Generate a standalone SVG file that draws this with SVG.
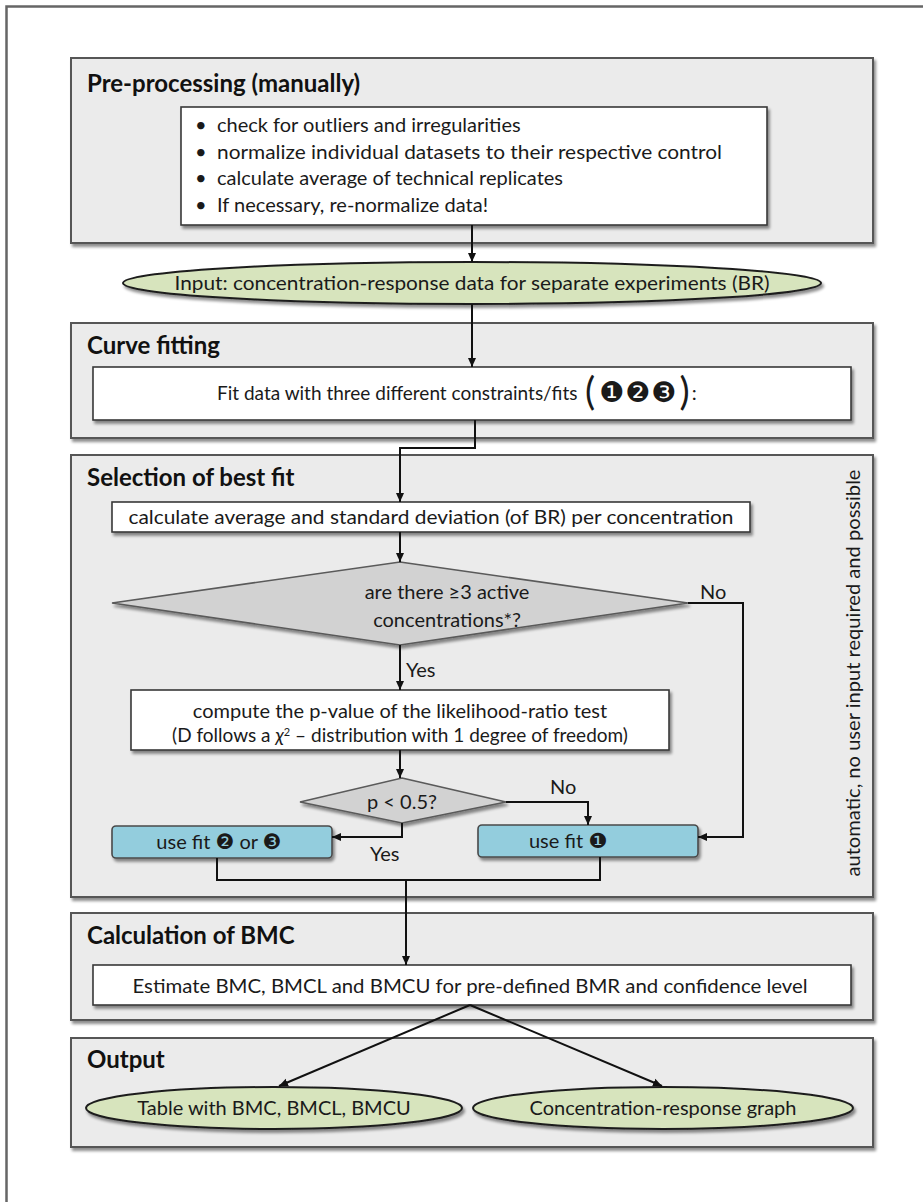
<svg xmlns="http://www.w3.org/2000/svg" width="923" height="1202" viewBox="0 0 923 1202">
<defs>
<style>
.sec{fill:#ebebeb;stroke:#575757;stroke-width:2;filter:url(#sh)}
.box{fill:#ffffff;stroke:#3a3a3a;stroke-width:1.6;filter:url(#sh)}
.ell{fill:#d7e4bd;stroke:#1e1e1e;stroke-width:2;filter:url(#sh)}
.dia{fill:#d2d2d2;stroke:#5a5a5a;stroke-width:1.6;filter:url(#sh)}
.blue{fill:#93cddd;stroke:#4a4a4a;stroke-width:1.6;filter:url(#sh)}
.t{font-family:Lato,"Liberation Sans",sans-serif;font-size:20px;fill:#1a1a1a}
.c{text-anchor:middle}
.h{font-family:Lato,"Liberation Sans",sans-serif;font-size:24px;font-weight:bold;fill:#111}
.d{font-family:"DejaVu Sans",sans-serif}
.ln{fill:none;stroke:#111;stroke-width:2}
</style>
<filter id="sh" x="-5%" y="-20%" width="110%" height="150%">
<feGaussianBlur in="SourceAlpha" stdDeviation="1.5"/>
<feOffset dx="1.5" dy="2.5" result="o"/>
<feComponentTransfer><feFuncA type="linear" slope="0.45"/></feComponentTransfer>
<feMerge><feMergeNode/><feMergeNode in="SourceGraphic"/></feMerge>
</filter>
<marker id="ar" markerWidth="10" markerHeight="10" refX="9" refY="5" orient="auto" markerUnits="userSpaceOnUse">
<path d="M0,1 L9,5 L0,9 Z" fill="#111"/>
</marker>
</defs>
<rect x="0" y="0" width="923" height="1202" fill="#fff"/>
<rect x="6.5" y="6.5" width="940" height="1220" fill="none" stroke="#666" stroke-width="2.5"/>

<g id="sec-preprocessing">
<rect class="sec" x="71" y="58" width="802" height="185"/>
<text class="h" x="87" y="92">Pre-processing (manually)</text>
</g>
<g id="node-bullets">
<rect class="box" x="181" y="107" width="586" height="118"/>
<text class="t" x="195" y="132">•</text><text class="t" x="217" y="132">check for outliers and irregularities</text>
<text class="t" x="195" y="159">•</text><text class="t" x="217" y="159" textLength="505" lengthAdjust="spacingAndGlyphs">normalize individual datasets to their respective control</text>
<text class="t" x="195" y="185">•</text><text class="t" x="217" y="185">calculate average of technical replicates</text>
<text class="t" x="195" y="212">•</text><text class="t" x="217" y="212">If necessary, re-normalize data!</text>
</g>
<g id="node-input">
<ellipse class="ell" cx="472" cy="283" rx="349" ry="21"/>
<text class="t c" x="472" y="290" textLength="595" lengthAdjust="spacingAndGlyphs">Input: concentration-response data for separate experiments (BR)</text>
</g>
<g id="sec-curve">
<rect class="sec" x="71" y="323" width="802" height="115"/>
<text class="h" x="87" y="354">Curve fitting</text>
</g>
<g id="node-fit">
<rect class="box" x="93" y="367" width="758" height="53"/>
<text class="t" x="217" y="400" style="font-size:19px">Fit data with three different constraints/fits</text>
<text class="t" x="585" y="405"><tspan style="font-size:38px">(</tspan><tspan class="d" dx="4" dy="-3" style="font-size:28px" letter-spacing="1">❶❷❸</tspan><tspan dx="2" dy="3" style="font-size:38px">)</tspan><tspan dx="2" dy="-5">:</tspan></text>
</g>
<g id="sec-selection">
<rect class="sec" x="71" y="455" width="802" height="442"/>
<text class="h" x="87" y="486">Selection of best fit</text>
<text class="t c" transform="translate(860,673) rotate(-90)" x="0" y="0" textLength="407" lengthAdjust="spacingAndGlyphs">automatic, no user input required and possible</text>
</g>
<g id="node-avg">
<rect class="box" x="112" y="502" width="638" height="30"/>
<text class="t c" x="431" y="524" textLength="605" lengthAdjust="spacingAndGlyphs">calculate average and standard deviation (of BR) per concentration</text>
</g>
<g id="node-active">
<polygon class="dia" points="400,562 688,603 400,645 112,603"/>
<text class="t c" x="447" y="599">are there ≥3 active</text>
<text class="t c" x="447" y="627">concentrations*?</text>
</g>
<g id="node-lrt">
<rect class="box" x="131" y="690" width="538" height="60"/>
<text class="t c" x="400" y="718">compute the p-value of the likelihood-ratio test</text>
<text class="t c" x="400" y="742" style="font-size:19px">(D follows a <tspan font-style="italic">χ</tspan><tspan style="font-size:11px" dy="-6">2</tspan><tspan dy="6"> – distribution with 1 degree of freedom)</tspan></text>
</g>
<g id="node-p">
<polygon class="dia" points="402,778 506,802 402,823 300,802"/>
<text class="t c" x="402" y="809">p &lt; 0.5?</text>
</g>
<g id="node-fit23">
<rect class="blue" x="112" y="826" width="220" height="32" rx="4"/>
<text class="t c" x="219" y="849">use fit <tspan class="d" style="font-size:21px">❷</tspan> or <tspan class="d" style="font-size:21px">❸</tspan></text>
</g>
<g id="node-fit1">
<rect class="blue" x="478" y="825" width="220" height="32" rx="4"/>
<text class="t c" x="568" y="848">use fit <tspan class="d" style="font-size:21px">❶</tspan></text>
</g>
<g id="sec-bmc">
<rect class="sec" x="71" y="913" width="802" height="107"/>
<text class="h" x="87" y="944">Calculation of BMC</text>
</g>
<g id="node-estimate">
<rect class="box" x="93" y="965" width="758" height="40"/>
<text class="t c" x="470" y="993" textLength="675" lengthAdjust="spacingAndGlyphs">Estimate BMC, BMCL and BMCU for pre-defined BMR and confidence level</text>
</g>
<g id="sec-output">
<rect class="sec" x="71" y="1038" width="802" height="109"/>
<text class="h" x="87" y="1068">Output</text>
</g>
<g id="node-table">
<ellipse class="ell" cx="274" cy="1108" rx="188" ry="21"/>
<text class="t c" x="274" y="1115">Table with BMC, BMCL, BMCU</text>
</g>
<g id="node-graph">
<ellipse class="ell" cx="663" cy="1108" rx="190" ry="21"/>
<text class="t c" x="663" y="1115">Concentration-response graph</text>
</g>

<g id="connectors">
<path class="ln" d="M472,225 V262" marker-end="url(#ar)"/>
<path class="ln" d="M472,304 V367" marker-end="url(#ar)"/>
<path class="ln" d="M475,420 V448 H400 V502" marker-end="url(#ar)"/>
<path class="ln" d="M400,532 V562" marker-end="url(#ar)"/>
<path class="ln" d="M400,645 V690" marker-end="url(#ar)"/>
<path class="ln" d="M400,750 V778" marker-end="url(#ar)"/>
<path class="ln" d="M688,603 H743 V837 H698" marker-end="url(#ar)"/>
<path class="ln" d="M506,802 H588 V825" marker-end="url(#ar)"/>
<path class="ln" d="M402,823 V837 H332" marker-end="url(#ar)"/>
<path class="ln" d="M217,858 V880 H600 V857"/>
<path class="ln" d="M406,880 V965" marker-end="url(#ar)"/>
<path class="ln" d="M470,1005 L279,1086" marker-end="url(#ar)"/>
<path class="ln" d="M470,1005 L662,1086" marker-end="url(#ar)"/>
<text class="t" x="700" y="599">No</text>
<text class="t" x="406" y="677">Yes</text>
<text class="t" x="550" y="794">No</text>
<text class="t" x="370" y="861">Yes</text>
</g>
</svg>
